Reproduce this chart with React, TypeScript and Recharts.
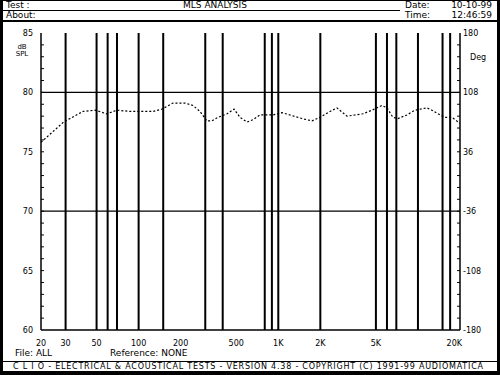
import { LineChart, Line, XAxis, YAxis, ReferenceLine } from "recharts";

// frequency response (Hz, dB SPL)
const freqs = [
  20, 29, 40, 49, 59, 70, 87, 102, 127, 147, 176, 215, 245, 275, 308, 335, 370,
  430, 482, 532, 597, 659, 739, 916, 1062, 1211, 1477, 1742, 1986, 2267, 2630,
  3100, 3540, 4037, 4680, 5520, 6000, 6620, 7190, 8340, 9510, 11590, 12590,
  13900, 15600, 17500, 20000,
];
const spl = [
  75.8, 77.5, 78.4, 78.5, 78.2, 78.5, 78.4, 78.4, 78.4, 78.6, 79.1, 79.1, 78.9,
  78.4, 77.6, 77.6, 77.9, 78.2, 78.6, 77.9, 77.5, 77.7, 78.1, 78.1, 78.3, 78.1,
  77.8, 77.6, 77.9, 78.3, 78.7, 78.0, 78.1, 78.2, 78.5, 78.9, 78.7, 77.9, 77.8,
  78.1, 78.5, 78.7, 78.5, 78.2, 77.9, 77.9, 77.4,
];

const xTicks = [20, 30, 50, 100, 200, 500, 1000, 2000, 5000, 10000, 20000];
const xTickLabels = ["20", "30", "50", "100", "200", "500", "1K", "2K", "5K", "10K", "20K"];
const gridFreqs = [
  30, 50, 60, 70, 100, 150, 300, 400, 800, 900, 1000, 2000, 5000, 6000, 7000,
  10000, 15000, 17000,
];
const dbLabels = [60, 65, 70, 75, 80, 85];
const degLabels = [-180, -108, -36, 36, 108, 180];
const hGrid = [80, 70];

const data = freqs.map((f, i) => ({ f, db: spl[i] }));

const font = "'DejaVu Sans', sans-serif";

// minor ticks every dB on both sides (phase side shares the same spacing)
const minorDb: number[] = [];
for (let v = 61; v <= 84; v++) minorDb.push(v);

const LeftTick = (p: any) => (
  <text x={33} y={p.y + 3} textAnchor="end" fontSize={8} fontFamily={font} fill="#000">
    {p.payload.value}
  </text>
);

const RightTick = (p: any) => (
  <text x={463} y={p.y + 3} textAnchor="start" fontSize={8} fontFamily={font} fill="#000">
    {p.payload.value}
  </text>
);

const BottomTick = (p: any) => {
  const i = xTicks.indexOf(p.payload.value);
  const last = i === xTicks.length - 1;
  return (
    <text
      x={last ? p.x + 2 : p.x}
      y={p.y + 8}
      textAnchor={last ? "end" : "middle"}
      fontSize={8}
      fontFamily={font}
      fill="#000"
    >
      {xTickLabels[i]}
    </text>
  );
};

const txt = { fontFamily: font, fontSize: 9, fill: "#000" } as const;

export default function App() {
  return (
    <div style={{ position: "fixed", left: 0, top: 0, width: 500, height: 375, background: "#fff" }}>
      <LineChart width={500} height={375} data={data} margin={{ top: 33, right: 1, bottom: 30, left: 1 }}>
        <XAxis
          dataKey="f"
          type="number"
          scale="log"
          domain={[20, 20000]}
          ticks={xTicks}
          tick={<BottomTick />}
          tickLine={false}
          axisLine={{ stroke: "#000", strokeWidth: 1.5 }}
          height={15}
          allowDataOverflow
        />
        <YAxis
          yAxisId="db"
          type="number"
          domain={[60, 85]}
          ticks={dbLabels}
          interval={0}
          tick={<LeftTick />}
          tickLine={false}
          axisLine={{ stroke: "#000", strokeWidth: 1.5 }}
          width={40}
          allowDataOverflow
        />
        <YAxis
          yAxisId="deg"
          type="number"
          orientation="right"
          domain={[-180, 180]}
          ticks={degLabels}
          interval={0}
          tick={<RightTick />}
          tickLine={false}
          axisLine={{ stroke: "#000", strokeWidth: 1.5 }}
          width={39}
          allowDataOverflow
        />
        {minorDb.map((v) => (
          <ReferenceLine
            key={"l" + v}
            yAxisId="db"
            segment={[{ x: 20, y: v }, { x: 21, y: v }]}
            stroke="#000"
            strokeWidth={1}
          />
        ))}
        {minorDb.map((v) => (
          <ReferenceLine
            key={"r" + v}
            yAxisId="db"
            segment={[{ x: 19050, y: v }, { x: 20000, y: v }]}
            stroke="#000"
            strokeWidth={1}
          />
        ))}
        {hGrid.map((v) => (
          <ReferenceLine key={v} yAxisId="db" y={v} stroke="#000" strokeWidth={1.2} />
        ))}
        {gridFreqs.map((f) => (
          <ReferenceLine key={f} yAxisId="db" x={f} stroke="#000" strokeWidth={2} />
        ))}
        <Line
          yAxisId="db"
          type="linear"
          dataKey="db"
          stroke="#000"
          strokeWidth={1.2}
          strokeDasharray="2 2"
          dot={false}
          isAnimationActive={false}
        />
      </LineChart>

      <svg width={500} height={375} style={{ position: "absolute", left: 0, top: 0, pointerEvents: "none" }}>
        {/* frame */}
        <rect x={0} y={0} width={3} height={375} fill="#000" />
        <rect x={497} y={0} width={3} height={375} fill="#000" />
        <line x1={0} x2={500} y1={0.5} y2={0.5} stroke="#000" />
        <line x1={0} x2={400} y1={10.5} y2={10.5} stroke="#000" />
        <line x1={0} x2={500} y1={21} y2={21} stroke="#000" strokeWidth={2} />
        <line x1={0} x2={500} y1={361.5} y2={361.5} stroke="#000" />
        <rect x={0} y={371} width={500} height={4} fill="#000" />

        {/* header */}
        <text x={6} y={8} {...txt}>Test :</text>
        <text x={6} y={18} {...txt}>About:</text>
        <text x={215} y={8} textAnchor="middle" {...txt}>MLS ANALYSIS</text>
        <text x={405} y={8} {...txt}>Date:</text>
        <text x={492} y={8} textAnchor="end" {...txt}>10-10-99</text>
        <text x={405} y={18} {...txt}>Time:</text>
        <text x={492} y={18} textAnchor="end" {...txt}>12:46:59</text>

        {/* axis units */}
        <text x={22} y={49} textAnchor="middle" fontSize={7} fontFamily={font}>dB</text>
        <text x={22} y={56} textAnchor="middle" fontSize={7} fontFamily={font}>SPL</text>
        <text x={470} y={60} fontSize={8} fontFamily={font}>Deg</text>

        {/* footer */}
        <text x={15} y={356} {...txt}>File: ALL</text>
        <text x={110} y={356} {...txt}>Reference: NONE</text>
        <text x={13} y={369} textLength={470} lengthAdjust="spacing" fontSize={8} fontFamily={font}>
          C L I O  -  ELECTRICAL &amp; ACOUSTICAL TESTS  -  VERSION 4.38  -  COPYRIGHT (C) 1991-99 AUDIOMATICA
        </text>
      </svg>
    </div>
  );
}
